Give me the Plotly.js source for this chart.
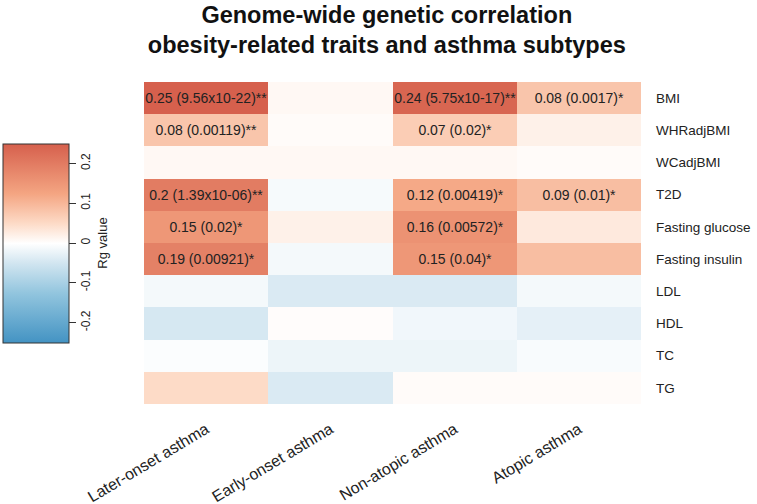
<!DOCTYPE html>
<html>
<head>
<meta charset="utf-8">
<script src="https://cdn.plot.ly/plotly-3.0.1.min.js"></script>
<style>
  html, body { margin: 0; padding: 0; background: #fff; }
  #chart { width: 757px; height: 504px; }
</style>
</head>
<body>
<div id="chart"></div>
<script>
var subtypes = ['Later-onset asthma', 'Early-onset asthma', 'Non-atopic asthma', 'Atopic asthma'];
var traits = ['BMI', 'WHRadjBMI', 'WCadjBMI', 'T2D', 'Fasting glucose', 'Fasting insulin', 'LDL', 'HDL', 'TC', 'TG'];

// Rg values, one row per trait, columns follow subtypes
var rgBMI       = [0.25, 0.01, 0.24, 0.08];
var rgWHR       = [0.08, 0.005, 0.07, 0.02];
var rgWC        = [0.01, 0.01, 0.01, 0.005];
var rgT2D       = [0.2, -0.01, 0.12, 0.09];
var rgGlucose   = [0.15, 0.02, 0.16, 0.03];
var rgInsulin   = [0.19, -0.012, 0.15, 0.09];
var rgLDL       = [-0.012, -0.04, -0.04, -0.012];
var rgHDL       = [-0.045, 0.004, -0.015, -0.028];
var rgTC        = [-0.004, -0.02, -0.02, -0.008];
var rgTG        = [0.05, -0.04, 0.005, 0.005];

// cell labels (empty where not significant)
var lblBMI      = ['0.25 (9.56x10-22)**', '', '0.24 (5.75x10-17)**', '0.08 (0.0017)*'];
var lblWHR      = ['0.08 (0.00119)**', '', '0.07 (0.02)*', ''];
var lblWC       = ['', '', '', ''];
var lblT2D      = ['0.2 (1.39x10-06)**', '', '0.12 (0.00419)*', '0.09 (0.01)*'];
var lblGlucose  = ['0.15 (0.02)*', '', '0.16 (0.00572)*', ''];
var lblInsulin  = ['0.19 (0.00921)*', '', '0.15 (0.04)*', ''];
var lblLDL      = ['', '', '', ''];
var lblHDL      = ['', '', '', ''];
var lblTC       = ['', '', '', ''];
var lblTG       = ['', '', '', ''];

var zRows = [rgBMI, rgWHR, rgWC, rgT2D, rgGlucose, rgInsulin, rgLDL, rgHDL, rgTC, rgTG];
var textRows = [lblBMI, lblWHR, lblWC, lblT2D, lblGlucose, lblInsulin, lblLDL, lblHDL, lblTC, lblTG];

var fontFam = 'Liberation Sans, Arial, sans-serif';

var heat = {
    type: 'heatmap',
    x: subtypes,
    y: traits,
    z: zRows,
    text: textRows,
    texttemplate: '%{text}',
    textfont: { family: fontFam, size: 14, color: '#222' },
    zmin: -0.25,
    zmax: 0.25,
    colorscale: [
        [0, '#4393C3'],
        [0.25, '#92C5DE'],
        [0.4, '#D1E5F0'],
        [0.5, '#FFFFFF'],
        [0.6, '#FDDBC7'],
        [0.75, '#F4A582'],
        [1, '#D6604D']
    ],
    hoverinfo: 'none',
    colorbar: {
        x: -0.284,
        xanchor: 'left',
        xref: 'paper',
        y: 0.5,
        yanchor: 'middle',
        len: 199,
        lenmode: 'pixels',
        thickness: 66,
        thicknessmode: 'pixels',
        outlinewidth: 1,
        outlinecolor: '#333',
        xpad: 0,
        ypad: 0,
        ticks: 'outside',
        ticklen: 7,
        tickcolor: '#333',
        tickvals: [-0.2, -0.1, 0, 0.1, 0.2],
        ticktext: ['-0.2', '-0.1', '0', '0.1', '0.2'],
        tickangle: -90,
        tickfont: { family: fontFam, size: 12, color: '#222' },
        title: { text: 'Rg value', side: 'right', font: { family: fontFam, size: 13, color: '#222' } }
    }
};

var layout = {
    width: 757,
    height: 504,
    margin: { l: 144, r: 116, t: 82, b: 100, autoexpand: false },
    paper_bgcolor: '#fff',
    plot_bgcolor: '#fff',
    font: { family: fontFam, color: '#222' },
    title: {
        text: '<b>Genome-wide genetic correlation<br>obesity-related traits and asthma subtypes</b>',
        font: { size: 23.5, color: '#111' },
        x: 0.511,
        xanchor: 'center',
        xref: 'container',
        yref: 'container',
        y: 0.955,
        yanchor: 'top'
    },
    xaxis: {
        showgrid: false,
        zeroline: false,
        ticks: '',
        tickangle: -31,
        ticklabelstandoff: 12,
        tickfont: { size: 16 },
        showline: false
    },
    yaxis: {
        side: 'right',
        autorange: 'reversed',
        showgrid: false,
        zeroline: false,
        ticks: '',
        ticklabelstandoff: 14,
        tickfont: { size: 13.5 },
        showline: false
    }
};

Plotly.newPlot('chart', [heat], layout, { displayModeBar: false, staticPlot: true });
</script>
</body>
</html>
